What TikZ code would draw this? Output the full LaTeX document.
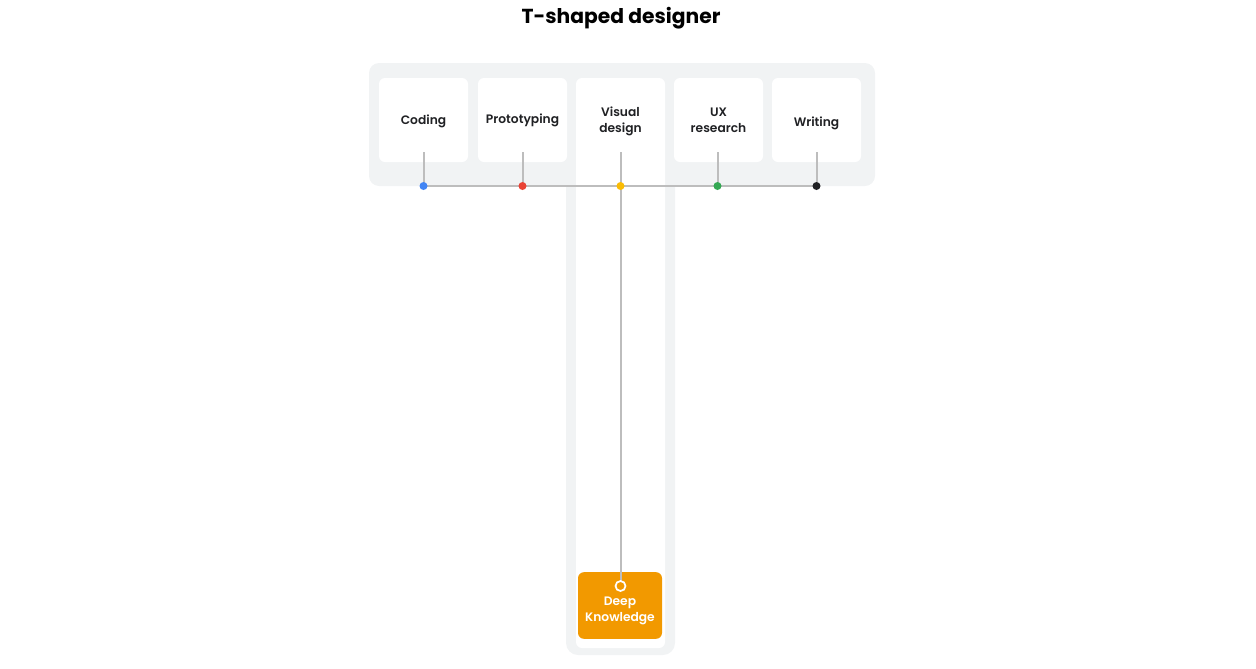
\documentclass[tikz,border=0pt]{standalone}
\usepackage{fontspec}
\setmainfont{Poppins}[BoldFont={Poppins SemiBold}]
\newfontfamily\titlefont{Poppins Bold}
\usepackage{tikz}
\definecolor{bandgray}{HTML}{F1F3F4}
\definecolor{wiregray}{HTML}{BDBDBD}
\definecolor{gblue}{HTML}{4285F4}
\definecolor{gred}{HTML}{EA4335}
\definecolor{gyellow}{HTML}{FBBC04}
\definecolor{ggreen}{HTML}{34A853}
\definecolor{gblack}{HTML}{202124}
\definecolor{deeporange}{HTML}{F29900}

\begin{document}
\begin{tikzpicture}[x=0.75pt,y=-0.75pt,
    card/.style={fill=white, rounded corners=4.5pt, minimum width=66.75pt,
        minimum height=63pt, align=center, inner sep=0pt,
        font=\fontsize{9.2}{12}\selectfont\bfseries, text=gblack},
    skill/.style={align=center, inner sep=0pt,
        font=\fontsize{9.2}{12}\selectfont\bfseries, text=gblack},
    wire/.style={draw=wiregray, line width=1.5pt},
    dot/.style={circle, fill=#1, inner sep=0pt, minimum size=6pt}]
    \useasboundingbox (0,0) rectangle (1256,668);

    \node[font=\titlefont\fontsize{15.2}{18}\selectfont, text=black] (title) at (621,18) {T-shaped designer};

    % the T
    \fill[bandgray, rounded corners=7.5pt] (369,63) rectangle (875,186);
    \fill[bandgray, rounded corners=9pt] (566,150) rectangle (675,655);
    \fill[white, rounded corners=4.5pt] (576,78) rectangle (665,648);

    \node[card] (coding) at (423.5,120) {};
    \node[skill] (codingtext) at (423.5,121.5) {Coding};
    \node[card] (proto) at (522.5,120) {Prototyping};
    \node[skill] (visual) at (620.5,121) {Visual\\design};
    \node[card] (ux) at (718.5,120) {UX\\research};
    \node[card] (writing) at (816.5,120) {};
    \node[skill] (writingtext) at (816.5,123.5) {Writing};

    \foreach \n/\x in {1/423.5, 2/522.5, 3/620.5, 4/717.5, 5/816.5} {
        \coordinate (t\n) at (\x,152);
        \coordinate (p\n) at (\x,186);
    }

    \node[fill=deeporange, rounded corners=4.5pt, minimum width=63pt, minimum height=50pt,
        inner sep=0pt] (deep) at (620,605.5) {};
    \node[align=center, text=white, inner sep=0pt,
        font=\fontsize{9.2}{12}\selectfont\bfseries] (deeptext) at (620,610.5) {Deep\\Knowledge};

    \draw[wire] (p1) -- (p5);
    \foreach \n in {1,2,4,5}
        \draw[wire] (t\n) -- (p\n);
    \draw[wire] (t3) -- (620.5,586) coordinate (ringc);

    \node[circle, draw=white, fill=deeporange, line width=1.3pt, inner sep=0pt,
        minimum size=7.5pt] (ring) at (ringc) {};
    \node[dot=gblue] (d1) at (p1) {};
    \node[dot=gred] (d2) at (p2) {};
    \node[dot=gyellow] (d3) at (p3) {};
    \node[dot=ggreen] (d4) at (p4) {};
    \node[dot=gblack] (d5) at (p5) {};

\end{tikzpicture}
\end{document}
